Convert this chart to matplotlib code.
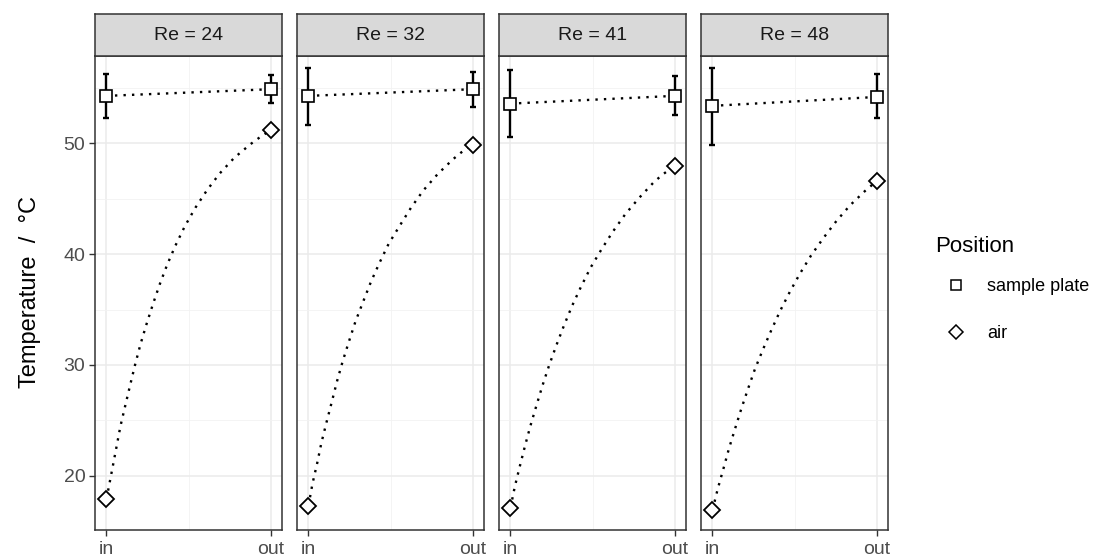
import numpy as np
import matplotlib
matplotlib.use("Agg")
import matplotlib.pyplot as plt
from matplotlib.lines import Line2D

plt.rcParams['font.family'] = ['Liberation Sans', 'DejaVu Sans']

# Reynolds numbers (one panel each)
re_values = [24, 32, 41, 48]
positions = ["in", "out"]

# sample plate temperature (mean and error bar limits), in / out
plate_mean = [[54.3, 54.9], [54.3, 54.9], [53.6, 54.3], [53.4, 54.2]]
plate_low = [[52.3, 53.7], [51.7, 53.3], [50.6, 52.6], [49.9, 52.3]]
plate_high = [[56.3, 56.2], [56.8, 56.5], [56.6, 56.1], [56.8, 56.3]]

# air temperature, in / out
air_temp = [[17.9, 51.2], [17.3, 49.9], [17.1, 48.0], [16.9, 46.6]]

# air temperature profile (x = fraction from in to out)
curve_x = [
    [0.0, 0.037, 0.061, 0.085, 0.114, 0.144, 0.174, 0.207, 0.243, 0.282, 0.323,
     0.369, 0.42, 0.477, 0.542, 0.613, 0.69, 0.779, 0.878, 0.933, 1.0],
    [0.0, 0.024, 0.053, 0.079, 0.11, 0.142, 0.174, 0.209, 0.247, 0.286, 0.333,
     0.381, 0.434, 0.489, 0.556, 0.625, 0.7, 0.787, 0.882, 0.931, 1.0],
    [0.0, 0.026, 0.057, 0.089, 0.122, 0.158, 0.195, 0.235, 0.278, 0.325, 0.375,
     0.43, 0.489, 0.556, 0.625, 0.7, 0.785, 0.874, 0.923, 1.0],
    [0.0, 0.032, 0.067, 0.101, 0.138, 0.176, 0.217, 0.259, 0.308, 0.36, 0.413,
     0.472, 0.534, 0.601, 0.676, 0.755, 0.838, 0.929, 1.0],
]
curve_y = [
    [17.9, 20.74, 22.6, 24.47, 26.3, 28.17, 30.0, 31.86, 33.64, 35.44, 37.22,
     39.02, 40.77, 42.51, 44.2, 45.79, 47.29, 48.71, 49.94, 50.54, 51.2],
    [17.3, 19.26, 21.13, 22.99, 24.83, 26.66, 28.53, 30.36, 32.14, 33.91, 35.71,
     37.52, 39.26, 40.95, 42.57, 44.2, 45.76, 47.23, 48.59, 49.19, 49.9],
    [17.1, 18.99, 20.86, 22.72, 24.53, 26.33, 28.14, 29.94, 31.71, 33.52, 35.32,
     37.07, 38.81, 40.47, 42.06, 43.62, 45.1, 46.51, 47.14, 48.0],
    [16.9, 18.81, 20.65, 22.48, 24.26, 26.06, 27.86, 29.64, 31.41, 33.19, 34.9,
     36.62, 38.27, 39.89, 41.46, 42.99, 44.41, 45.7, 46.6],
]

W, H = 1110, 560
fig = plt.figure(figsize=(W / 100, H / 100), dpi=100)

panel_left = [95, 297, 499, 701]
panel_w = 187
panel_top, panel_bottom = 56, 530
strip_top = 14

dots = (0, (1, 2.6))
xi = np.arange(2)

for i, re in enumerate(re_values):
    ax = fig.add_axes([panel_left[i] / W, 1 - panel_bottom / H,
                       panel_w / W, (panel_bottom - panel_top) / H])
    ax.set_xlim(-0.07, 1.07)
    ax.set_ylim(15.1, 57.9)

    # grid like theme_bw
    ax.set_yticks([20, 30, 40, 50])
    ax.set_yticks([25, 35, 45, 55], minor=True)
    ax.set_xticks(xi)
    ax.set_xticks([0.5], minor=True)
    ax.grid(True, which='major', color='#EBEBEB', linewidth=1.1)
    ax.grid(True, which='minor', color='#F2F2F2', linewidth=0.6)
    ax.set_axisbelow(True)
    ax.tick_params(which='minor', length=0)
    ax.tick_params(which='major', length=4, width=1.0, color='#333333',
                   labelcolor='#4D4D4D', labelsize=14, pad=3)
    ax.tick_params(axis='x', pad=4)
    ax.set_xticklabels(positions)
    if i > 0:
        ax.tick_params(axis='y', left=False, labelleft=False)
    for s in ax.spines.values():
        s.set_color('#333333')
        s.set_linewidth(1.1)

    # sample plate
    pm = np.array(plate_mean[i])
    yerr = [pm - np.array(plate_low[i]), np.array(plate_high[i]) - pm]
    ax.plot(xi, pm, color='black', linestyle=dots, linewidth=1.7, zorder=2)
    ax.errorbar(xi, pm, yerr=yerr, fmt='none', ecolor='black', elinewidth=1.7,
                capsize=2.4, capthick=1.7, zorder=3)
    ax.plot(xi, pm, linestyle='none', marker='s', markersize=8,
            markerfacecolor='white', markeredgecolor='black',
            markeredgewidth=1.2, zorder=4)

    # air
    ax.plot(curve_x[i], curve_y[i], color='black', linestyle=dots,
            linewidth=1.7, zorder=2)
    ax.plot(xi, air_temp[i], linestyle='none', marker='D', markersize=8.5,
            markerfacecolor='white', markeredgecolor='black',
            markeredgewidth=1.3, zorder=4)

    # strip
    sax = fig.add_axes([panel_left[i] / W, 1 - panel_top / H,
                        panel_w / W, (panel_top - strip_top) / H])
    sax.set_facecolor('#D9D9D9')
    sax.set_xticks([])
    sax.set_yticks([])
    for s in sax.spines.values():
        s.set_color('#333333')
        s.set_linewidth(1.1)
    sax.text(0.5, 0.5, f"Re = {re}", ha='center', va='center',
             fontsize=14, color='#1A1A1A', transform=sax.transAxes)

fig.text(30 / W, 1 - 292 / H, "Temperature  /  °C", rotation=90,
         ha='center', va='center', fontsize=17, color='black')

# legend: title as separate text, entries below it
fig.text(935 / W, 1 - 247 / H, "Position", ha='left', va='center',
         fontsize=16, color='black')
handles = [
    Line2D([], [], linestyle='none', marker='s', markersize=7,
           markerfacecolor='white', markeredgecolor='black', markeredgewidth=1.1),
    Line2D([], [], linestyle='none', marker='D', markersize=7.5,
           markerfacecolor='white', markeredgecolor='black', markeredgewidth=1.1),
]
leg = fig.legend(handles, ["sample plate", "air"],
                 loc='center left', bbox_to_anchor=(926 / W, 1 - 310 / H),
                 frameon=False, fontsize=13,
                 labelspacing=1.65, handletextpad=1.0, handlelength=1.5)

fig.savefig("out.png", dpi=100)
